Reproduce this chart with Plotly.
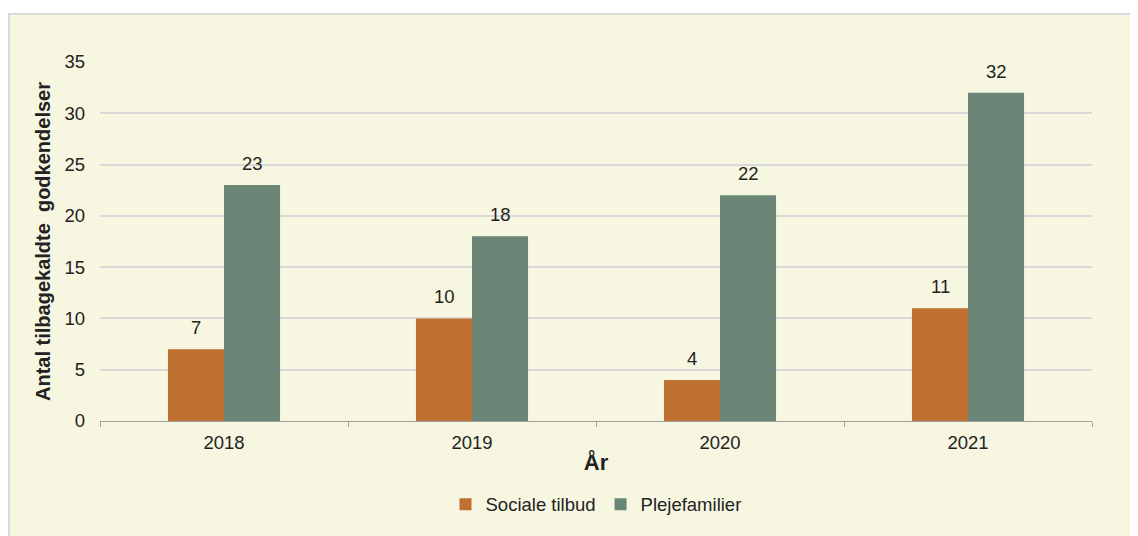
import plotly.graph_objects as go

years = ["2018", "2019", "2020", "2021"]
sociale = [7, 10, 4, 11]
pleje = [23, 18, 22, 32]

orange = "#C07030"
green = "#6B8677"
bg = "#F7F7E1"
font = "Liberation Sans, Arial, sans-serif"
fs = 18.5

# figure pixel coords (page is offset by 8px body margin)
L, R, T, B = 92, 1084, 54, 413
PW, PH = R - L, B - T

fig = go.Figure()
fig.add_trace(go.Bar(x=years, y=sociale, name="Sociale tilbud", marker=dict(color=orange, line=dict(width=0))))
fig.add_trace(go.Bar(x=years, y=pleje, name="Plejefamilier", marker=dict(color=green, line=dict(width=0))))

for vals, xs in ((sociale, -28), (pleje, 28)):
    for i, v in enumerate(vals):
        fig.add_annotation(x=i, y=v, xref="x", yref="y", text=str(v), showarrow=False,
                           xshift=xs, yshift=9, yanchor="bottom",
                           font=dict(family=font, size=fs, color="#222222"))

fig.add_shape(type="rect", xref="paper", yref="paper", layer="below",
              x0=(1 - L) / PW, x1=(1170 - L) / PW, y0=(B - 570) / PH, y1=(B - 6) / PH,
              fillcolor=bg, line=dict(color="#D9D9D9", width=2))

fig.update_layout(
    width=1138, height=536,
    margin=dict(l=L, r=1138 - R, t=T, b=536 - B, autoexpand=False),
    paper_bgcolor="white", plot_bgcolor=bg,
    barmode="group", bargap=0.548, bargroupgap=0,
    font=dict(family=font, size=fs, color="#222222"),
    showlegend=True,
    legend=dict(orientation="h", x=0.5, xanchor="center", y=-0.18, yanchor="top",
                bgcolor="rgba(0,0,0,0)", traceorder="normal"),
    xaxis=dict(type="category", title=dict(text="<b>År</b>", standoff=2),
               tickson="boundaries", ticks="outside", ticklen=5, tickcolor="#A0A0A0",
               ticklabelstandoff=5,
               showline=True, linecolor="#A0A0A0", linewidth=1, showgrid=False),
    yaxis=dict(title=dict(text="<b>Antal tilbagekaldte  godkendelser</b>", font=dict(size=20), standoff=8),
               range=[0, 35], dtick=5, showgrid=True, gridcolor="#D9D9D9", gridwidth=2,
               ticklabelstandoff=14,
               zeroline=False, showline=False, ticks=""),
)

fig.write_html("out.html")
